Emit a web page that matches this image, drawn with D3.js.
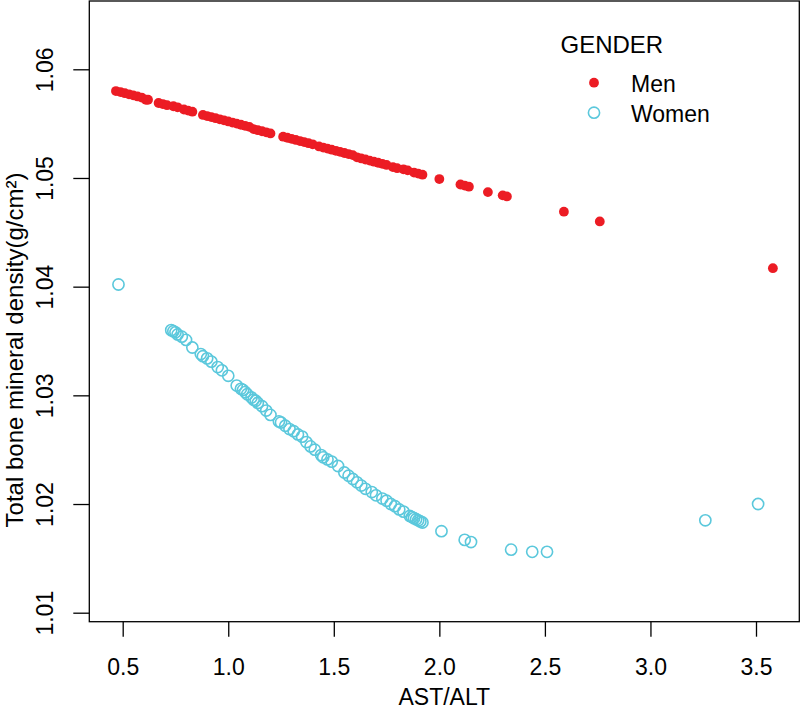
<!DOCTYPE html>
<html>
<head>
<meta charset="utf-8">
<script src="https://cdn.jsdelivr.net/npm/d3@7"></script>
<style>
  html, body { margin: 0; padding: 0; background: #ffffff; }
  svg { display: block; font-family: "Liberation Sans", Arial, Helvetica, sans-serif; }
</style>
</head>
<body>
<svg id="chart" width="800" height="710"></svg>
<script>
// ---------------- data ----------------
const menX = [0.468, 0.49, 0.51, 0.53, 0.55, 0.57, 0.59, 0.61, 0.62, 0.67, 0.69, 0.71, 0.74, 0.76,
  0.79, 0.81, 0.83, 0.88, 0.90, 0.92, 0.94, 0.96, 0.98, 1.00, 1.02, 1.04, 1.06, 1.08, 1.10, 1.12,
  1.14, 1.16, 1.18, 1.20, 1.26, 1.28, 1.30, 1.32, 1.34, 1.36, 1.38, 1.40, 1.43, 1.45, 1.47, 1.49,
  1.51, 1.53, 1.55, 1.57, 1.59, 1.61, 1.63, 1.65, 1.67, 1.69, 1.71, 1.73, 1.75, 1.78, 1.80, 1.83,
  1.85, 1.88, 1.90, 1.92, 2.00, 2.10, 2.12, 2.14, 2.23, 2.30, 2.32, 2.59, 2.76, 3.58];
const menY = [1.0580, 1.0579, 1.0578, 1.0577, 1.0576, 1.0575, 1.0574, 1.0572, 1.0572, 1.0569, 1.0568,
  1.0567, 1.0566, 1.0565, 1.0563, 1.0562, 1.0561, 1.0558, 1.0557, 1.0556, 1.0555, 1.0554, 1.0553,
  1.0552, 1.0551, 1.0550, 1.0549, 1.0548, 1.0547, 1.0545, 1.0544, 1.0543, 1.0542, 1.0541, 1.0538,
  1.0537, 1.0536, 1.0535, 1.0534, 1.0533, 1.0532, 1.0531, 1.0529, 1.0528, 1.0527, 1.0526, 1.0525,
  1.0524, 1.0523, 1.0522, 1.0521, 1.0519, 1.0518, 1.0517, 1.0516, 1.0515, 1.0514, 1.0513, 1.0512,
  1.0510, 1.0509, 1.0508, 1.0507, 1.0505, 1.0504, 1.0503, 1.0499, 1.0494, 1.0493, 1.0492, 1.0487,
  1.0484, 1.0483, 1.0469, 1.0460, 1.0417];

const womenX = [0.48, 0.73, 0.74, 0.75, 0.76, 0.78, 0.80, 0.83, 0.87, 0.88, 0.90, 0.92, 0.95, 0.97,
  1.00, 1.04, 1.06, 1.07, 1.08, 1.09, 1.11, 1.12, 1.13, 1.14, 1.16, 1.18, 1.20, 1.24, 1.25, 1.27,
  1.29, 1.31, 1.33, 1.35, 1.37, 1.39, 1.41, 1.44, 1.45, 1.47, 1.49, 1.52, 1.55, 1.57, 1.59, 1.61,
  1.63, 1.65, 1.68, 1.70, 1.73, 1.75, 1.77, 1.79, 1.81, 1.83, 1.86, 1.87, 1.88, 1.89, 1.90, 1.91,
  1.92, 2.01, 2.12, 2.15, 2.34, 2.44, 2.51, 3.26, 3.51];
const womenY = [1.0402, 1.0360, 1.0359, 1.0358, 1.0356, 1.0354, 1.0351, 1.0344, 1.0338, 1.0336,
  1.0334, 1.0331, 1.0326, 1.0323, 1.0318, 1.0309, 1.0306, 1.0305, 1.0303, 1.0301, 1.0298, 1.0296,
  1.0295, 1.0293, 1.0290, 1.0286, 1.0282, 1.0276, 1.0275, 1.0272, 1.0269, 1.0267, 1.0264, 1.0262,
  1.0257, 1.0253, 1.0250, 1.0245, 1.0243, 1.0241, 1.0239, 1.0235, 1.0229, 1.0226, 1.0223, 1.0220,
  1.0217, 1.0214, 1.0211, 1.0208, 1.0205, 1.0203, 1.0200, 1.0198, 1.0195, 1.0193, 1.0189, 1.0188,
  1.0187, 1.0186, 1.0185, 1.0184, 1.0183, 1.0175, 1.0167, 1.0165, 1.0158, 1.0156, 1.0156, 1.0185,
  1.0200];

const xTicks = [0.5, 1.0, 1.5, 2.0, 2.5, 3.0, 3.5];
const yTicks = [1.01, 1.02, 1.03, 1.04, 1.05, 1.06];
const legendTitle = "GENDER";
const seriesNames = ["Men", "Women"];
const xTitle = "AST/ALT";
const yTitle = "Total bone mineral density(g/cm²)";

// ---------------- layout ----------------
const svg = d3.select("#chart");
const box = { left: 89.3, right: 799.3, top: 1, bottom: 621.7 };
const FONT = 23;
const RED = "#EC1C24";
const BLUE = "#5BC8DC";

const x = d3.scaleLinear().domain([0.5, 3.5]).range([122.7, 756.0]);
const y = d3.scaleLinear().domain([1.01, 1.06]).range([612.7, 69.3]);

// plot box
svg.append("rect")
  .attr("x", box.left).attr("y", box.top)
  .attr("width", box.right - box.left).attr("height", box.bottom - box.top)
  .attr("fill", "none").attr("stroke", "#000").attr("stroke-width", 1.3);

// x axis
const gx = svg.append("g")
  .attr("transform", `translate(0,${box.bottom})`)
  .call(d3.axisBottom(x).tickValues(xTicks).tickFormat(d3.format(".1f"))
        .tickSize(15).tickPadding(22).tickSizeOuter(0));
gx.select(".domain").remove();
gx.selectAll(".tick line").attr("stroke", "#000").attr("stroke-width", 1.3);
gx.selectAll(".tick text").attr("font-size", FONT).attr("fill", "#000")
  .attr("font-family", "Liberation Sans, Arial, sans-serif");

// y axis
const gy = svg.append("g")
  .attr("transform", `translate(${box.left},0)`)
  .call(d3.axisLeft(y).tickValues(yTicks).tickFormat(d3.format(".2f"))
        .tickSize(16).tickSizeOuter(0));
gy.select(".domain").remove();
gy.selectAll(".tick line").attr("stroke", "#000").attr("stroke-width", 1.3);
gy.selectAll(".tick text")
  .attr("font-size", FONT).attr("fill", "#000")
  .attr("font-family", "Liberation Sans, Arial, sans-serif")
  .attr("text-anchor", "middle")
  .attr("x", null).attr("dy", null)
  .attr("transform", "translate(-36,0) rotate(-90)");

// axis titles
svg.append("text")
  .attr("x", (box.left + box.right) / 2).attr("y", 705)
  .attr("text-anchor", "middle").attr("font-size", FONT).attr("fill", "#000")
  .text(xTitle);
svg.append("text")
  .attr("transform", "translate(23,350) rotate(-90)")
  .attr("text-anchor", "middle").attr("font-size", 24).attr("fill", "#000")
  .text(yTitle);

// points
const men = menX.map((v, i) => ({ x: v, y: menY[i] }));
const women = womenX.map((v, i) => ({ x: v, y: womenY[i] }));

svg.append("g").selectAll("circle").data(women).join("circle")
  .attr("cx", d => x(d.x)).attr("cy", d => y(d.y)).attr("r", 5.6)
  .attr("fill", "none").attr("stroke", BLUE).attr("stroke-width", 1.6);

svg.append("g").selectAll("circle").data(men).join("circle")
  .attr("cx", d => x(d.x)).attr("cy", d => y(d.y)).attr("r", 4.9)
  .attr("fill", RED);

// legend
const lg = svg.append("g");
lg.append("text").attr("x", 560.5).attr("y", 53.3)
  .attr("font-size", 24).attr("fill", "#000").text(legendTitle);
lg.append("circle").attr("cx", 594).attr("cy", 82.7).attr("r", 4.9).attr("fill", RED);
lg.append("text").attr("x", 631).attr("y", 91.7)
  .attr("font-size", FONT).attr("fill", "#000").text(seriesNames[0]);
lg.append("circle").attr("cx", 594).attr("cy", 112.7).attr("r", 5.6)
  .attr("fill", "none").attr("stroke", BLUE).attr("stroke-width", 1.6);
lg.append("text").attr("x", 631).attr("y", 121.7)
  .attr("font-size", FONT).attr("fill", "#000").text(seriesNames[1]);
</script>
</body>
</html>
